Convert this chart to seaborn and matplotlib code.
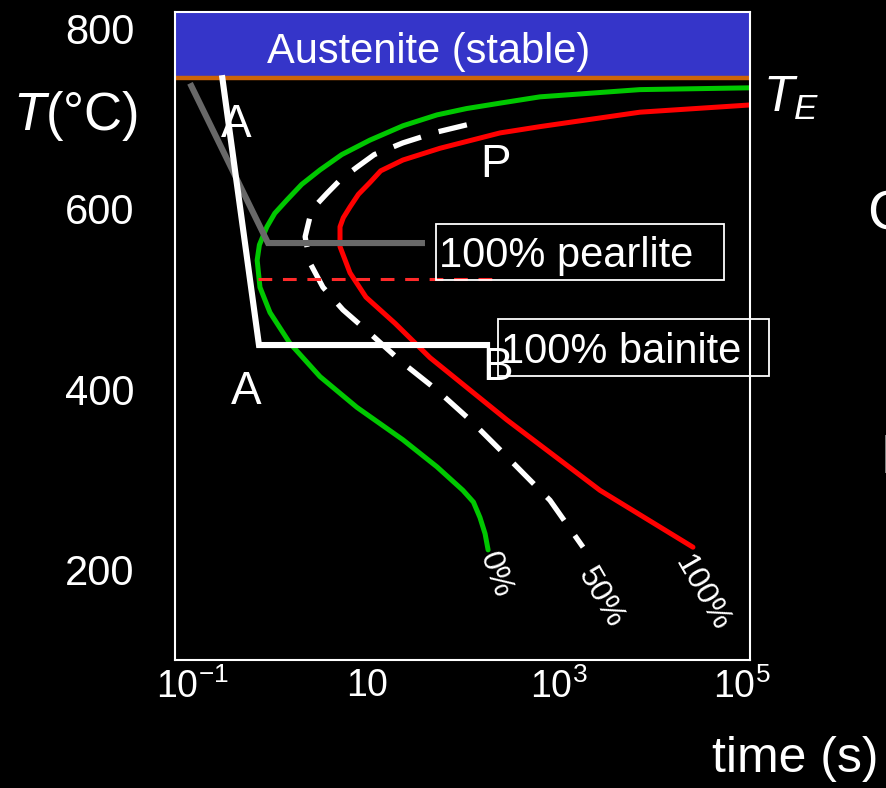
import numpy as np
import pandas as pd
import matplotlib
matplotlib.use("Agg")
import matplotlib.pyplot as plt
import seaborn as sns
from matplotlib.patches import Rectangle
from matplotlib.transforms import ScaledTranslation
from matplotlib.ticker import NullLocator

# ---------------- data (time in s, temperature in degC) ----------------
green_t = [100000, 7110, 644, 246, 110, 54.2, 24, 10.8, 5.5, 3.26, 2.1, 1.48,
           1.1, 0.91, 0.76, 0.72, 0.77, 0.98, 1.58, 3.26, 7.9, 23.9, 54.2,
           101, 130, 152, 172, 185]
green_T = [734, 732, 724, 717, 711, 704, 692, 676, 660, 643, 627, 610,
           595, 580, 560, 543, 513, 485, 451, 414, 380, 344, 314,
           288, 275, 258, 240, 222]

half_t = [111, 54.2, 23.9, 12, 7.9, 5.3, 3.85, 2.9, 2.56, 2.28, 2.56, 3.50,
          5.66, 10.8, 23.9, 54.2, 120, 246, 818, 1810]
half_T = [693, 685, 673, 660, 646, 632, 617, 603, 591, 569, 540, 513,
          488, 462, 429, 399, 366, 333, 277, 225]

red_t = [100000, 7110, 644, 246, 58.2, 23.9, 14, 10.8, 8.2, 6.70, 5.7, 5.27,
         5.27, 6.70, 9.84, 19.8, 45.8, 291, 2720, 25400]
red_T = [715, 707, 691, 684, 667, 654, 642, 629, 616, 602, 590, 580,
         558, 529, 502, 473, 435, 366, 288, 225]

pearlite_path_t = [0.1435, 0.934, 40.6]
pearlite_path_T = [739, 562, 562]
bainite_path_t = [0.309, 0.752, 194]
bainite_path_T = [748, 449, 449]
nose_line_t = [0.735, 229]
nose_line_T = [522, 522]

TE = 745
T_top = 818
y_ticks = [200, 400, 600, 800]
x_ticks = [0.1, 10, 1e3, 1e5]
x_tick_labels = [r"$\mathregular{10^{-1}}$", r"$\mathregular{10}$",
                 r"$\mathregular{10^{3}}$", r"$\mathregular{10^{5}}$"]

# ---------------- style ----------------
sns.set_theme(style="dark")
plt.rcParams["font.family"] = ["Liberation Sans", "DejaVu Sans"]
plt.rcParams["mathtext.fontset"] = "custom"
plt.rcParams["mathtext.rm"] = "Liberation Sans"
plt.rcParams["mathtext.it"] = "Liberation Sans:italic"

W, H = 887, 788
fig = plt.figure(figsize=(W / 100, H / 100), dpi=100, facecolor="black")
ax = fig.add_axes([175 / W, 1 - 660 / H, 575 / W, 648 / H])
ax.set_facecolor("black")
ax.set_xscale("log")
ax.set_xlim(0.1, 1e5)
ax.set_ylim(100, T_top)
ax.grid(False)


def F(x, y):
    return (x / W, 1 - y / H)


BLUE = "#3535c9"
ORANGE = "#cc6408"
GREEN = "#00c800"
RED = "#ff0000"
GRAY = "#686868"

ax.axhspan(TE, T_top, color=BLUE, zorder=0.5, lw=0)
ax.axhline(TE, color=ORANGE, lw=3.2, zorder=1)

sns.lineplot(x=green_t, y=green_T, sort=False, estimator=None, color=GREEN,
             lw=3.6, ax=ax, zorder=2)
sns.lineplot(x=red_t, y=red_T, sort=False, estimator=None, color=RED,
             lw=3.6, ax=ax, zorder=2)
sns.lineplot(x=half_t, y=half_T, sort=False, estimator=None, color="white",
             lw=3.8, ax=ax, zorder=2)
ax.lines[-1].set_dashes((5.5, 3.5))
sns.lineplot(x=nose_line_t, y=nose_line_T, sort=False, estimator=None,
             color="#ff2a2a", lw=2.2, ax=ax, zorder=2)
ax.lines[-1].set_dashes((4.5, 3.5))
sns.lineplot(x=pearlite_path_t, y=pearlite_path_T, sort=False, estimator=None,
             color=GRAY, lw=4.4, ax=ax, zorder=3)
sns.lineplot(x=bainite_path_t, y=bainite_path_T, sort=False, estimator=None,
             color="white", lw=4.4, ax=ax, zorder=4)
for ln in ax.lines[:3]:
    ln.set_solid_joinstyle("round")
for ln in ax.lines[3:]:
    ln.set_solid_joinstyle("miter")
    ln.set_solid_capstyle("butt")

for s in ax.spines.values():
    s.set_color("white")
    s.set_linewidth(1.5)
    s.set_visible(True)

ax.set_yticks(y_ticks)
ax.set_yticklabels([str(v) for v in y_ticks])
ax.set_xticks(x_ticks)
ax.set_xticklabels(x_tick_labels)
ax.xaxis.set_minor_locator(NullLocator())
ax.tick_params(axis="y", length=0, pad=29, labelsize=30, colors="white")
ax.tick_params(axis="x", length=0, pad=6, labelsize=27, colors="white")
xl = ax.get_xticklabels()
xl[0].set_transform(xl[0].get_transform() + ScaledTranslation(0.17, 0, fig.dpi_scale_trans))
xl[3].set_transform(xl[3].get_transform() + ScaledTranslation(-0.08, 0, fig.dpi_scale_trans))
ax.set_xlabel("")
ax.set_ylabel("")

# ---------------- texts ----------------
fig.text(*F(429, 63), "Austenite (stable)", fontsize=30, color="white",
         ha="center", va="baseline")
fig.text(*F(13, 130), r"$T$(°C)", fontsize=38, color="white",
         ha="left", va="baseline")
fig.text(*F(763, 112), r"$T_E$", fontsize=36, color="white",
         ha="left", va="baseline")
for (x, y, s) in [(236, 125, "A"), (246, 392, "A"), (496, 165, "P"), (498, 368, "B")]:
    fig.text(*F(x, y), s, fontsize=33, color="white", ha="center", va="center")

fig.text(*F(439, 267), "100% pearlite", fontsize=30, color="white",
         ha="left", va="baseline")
fig.text(*F(501, 363), "100% bainite", fontsize=30, color="white",
         ha="left", va="baseline")
fig.add_artist(Rectangle(F(436, 280), 288 / W, 56 / H, transform=fig.transFigure,
                         fill=False, ec="white", lw=1.3))
fig.add_artist(Rectangle(F(498, 376), 271 / W, 57 / H, transform=fig.transFigure,
                         fill=False, ec="white", lw=1.3))

fig.text(*F(495, 575), "0%", fontsize=23, color="white", rotation=-70,
         ha="center", va="center", rotation_mode="anchor")
fig.text(*F(601, 598), "50%", fontsize=23, color="white", rotation=-60,
         ha="center", va="center", rotation_mode="anchor")
fig.text(*F(702, 593), "100%", fontsize=23, color="white", rotation=-60,
         ha="center", va="center", rotation_mode="anchor")

fig.text(*F(879, 772), "time (s)", fontsize=36, color="white",
         ha="right", va="baseline")
fig.text(*F(867, 215), "C", fontsize=40, color="white", ha="left", va="center")
fig.text(*F(881, 459), "B", fontsize=40, color="white", ha="left", va="center")

fig.savefig("out.png", dpi=100, facecolor="black")
